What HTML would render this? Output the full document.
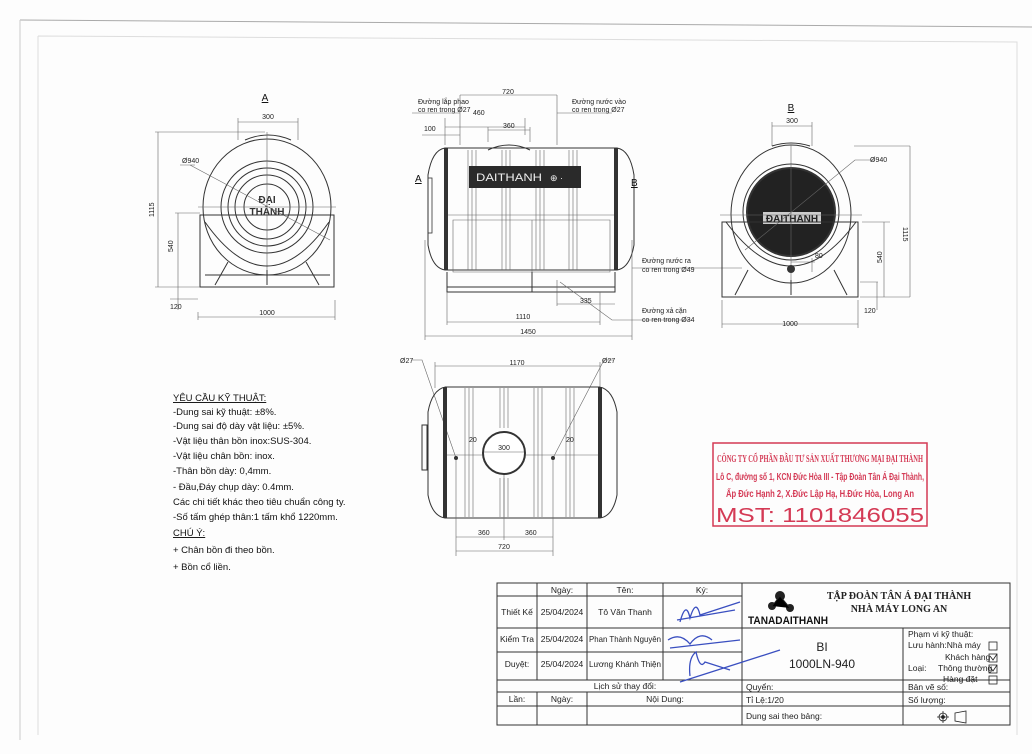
<!DOCTYPE html>
<html><head><meta charset="utf-8"><style>
html,body{margin:0;padding:0;background:#fff;}
svg{display:block;font-family:"Liberation Sans",sans-serif;}
.l{stroke:#333;stroke-width:1;fill:none}
.t{stroke:#666;stroke-width:.6;fill:none}
.d{font-size:7px;fill:#222;font-family:"Liberation Sans",sans-serif}
.tx{font-size:10px;fill:#111}
.tb{font-size:8.5px;fill:#222}
</style></head><body>
<svg width="1032" height="754" viewBox="0 0 1032 754" xmlns="http://www.w3.org/2000/svg">
<rect width="1032" height="754" fill="#fdfdfd"/>
<!-- frames -->
<path d="M20 20 L1032 27" stroke="#aaa" stroke-width="1"/>
<path d="M20 20 L20 740" stroke="#ccc" stroke-width="1"/>
<path d="M38 36 L1017 42 L1017 735 M38 36 L38 735" stroke="#ddd" stroke-width="1" fill="none"/>

<!-- LEFT VIEW A -->
<g>
<text x="265" y="101" class="tx" text-anchor="middle" text-decoration="underline">A</text>
<path class="t" d="M238 122 H298 M238 118 V140 M298 118 V140"/><text x="268" y="119" class="d" text-anchor="middle">300</text>
<path class="l" d="M245 140 Q268 130 291 140"/>
<ellipse class="l" cx="267" cy="207" rx="64" ry="68"/>
<circle class="l" cx="267" cy="207" r="46" stroke-width="2"/>
<circle class="l" cx="267" cy="207" r="39"/>
<circle class="l" cx="267" cy="207" r="32" stroke-width="1.5"/>
<circle class="l" cx="267" cy="207" r="23"/>
<text x="267" y="203" font-size="10" font-weight="bold" text-anchor="middle" fill="#333">ĐẠI</text>
<text x="267" y="215" font-size="10" font-weight="bold" text-anchor="middle" fill="#333">THÀNH</text>
<path class="t" d="M198 207 H336 M267 132 V285 M190 165 L330 240 M180 165 H195"/>
<text x="182" y="163" class="d">Ø940</text>
<rect class="l" x="200" y="215" width="134" height="72"/>
<path class="l" d="M205 222 Q267 310 329 222 M215 285 L228 262 M319 285 L306 262 M267 270 V285 M205 275 H330"/>
<path class="t" d="M158 132 V287 M155 132 H265 M155 287 H200 M178 213 V287 M175 213 H200 M170 299 H198 M178 287 V310 M198 312 V320 M198 317 H335 M335 300 V320"/>
<text x="152" y="215" class="d" transform="rotate(-90 154 215)">1115</text>
<text x="173" y="252" class="d" transform="rotate(-90 173 252)">540</text>
<text x="170" y="309" class="d">120</text>
<text x="267" y="315" class="d" text-anchor="middle">1000</text>
</g>

<!-- FRONT VIEW -->
<g>
<text x="418" y="104" class="d">Đường lắp phao</text><text x="418" y="112" class="d">co ren trong Ø27</text>
<path class="t" d="M412 113 H460 M460 95 V145 M460 95 H557 M557 95 V145 M557 113 H612"/>
<text x="508" y="94" class="d" text-anchor="middle">720</text>
<text x="572" y="104" class="d">Đường nước vào</text><text x="572" y="112" class="d">co ren trong Ø27</text>
<text x="473" y="115" class="d">460</text>
<path class="t" d="M445 118 V145 M445 127 H525 M525 118 V135 M422 135 H460"/><text x="424" y="131" class="d">100</text>
<path class="t" d="M488 130 H530 M488 127 V142 M530 127 V142"/><text x="503" y="128" class="d">360</text>
<path class="l" d="M445 148 Q432 150 428 175 V245 Q432 268 445 270 M617 148 Q630 150 634 175 V245 Q630 268 617 270"/>
<path class="l" d="M445 148 H617 V270 H445 Z" />
<rect x="444" y="148" width="4" height="122" fill="#333"/><rect x="614" y="148" width="4" height="122" fill="#333"/>
<path class="l" d="M488 150 Q509 140 530 150"/>
<path class="t" d="M468 150 V270 M472 150 V270 M476 150 V270 M502 150 V270 M506 150 V270 M510 150 V270 M536 150 V270 M540 150 V270 M544 150 V270 M569 150 V270 M573 150 V270 M577 150 V270 M448 215 H614"/>
<rect x="469" y="166" width="112" height="22" fill="#2a2a2a"/>
<text x="476" y="181" fill="#eee" font-size="11" textLength="66" lengthAdjust="spacingAndGlyphs" font-family="Liberation Sans Narrow, Liberation Sans, sans-serif">DAITHANH</text>
<text x="550" y="181" fill="#eee" font-size="9">⊕ ·</text>
<path class="t" d="M453 220 H610 V272 H453 Z M532 220 V272"/>
<text x="415" y="182" class="tx" text-decoration="underline">A</text>
<text x="631" y="186" class="tx" text-decoration="underline">B</text>
<rect x="428" y="178" width="4" height="55" fill="none" stroke="#333" stroke-width=".8"/>
<path class="l" d="M447 272 V292 H615 V272 M447 287 H615 M532 272 V292"/>
<path class="t" d="M447 292 V325 M600 292 V325 M447 322 H600 M557 280 V306 M557 304 H615 M425 240 V340 M632 240 V340 M425 336 H632 M632 268 H742 M560 282 L612 320 H690"/>
<text x="580" y="303" class="d">335</text>
<text x="523" y="319" class="d" text-anchor="middle">1110</text>
<text x="528" y="334" class="d" text-anchor="middle">1450</text>
<text x="642" y="263" class="d">Đường nước ra</text><text x="642" y="272" class="d">co ren trong Ø49</text>
<text x="642" y="313" class="d">Đường xả cặn</text><text x="642" y="322" class="d">co ren trong Ø34</text>
</g>

<!-- RIGHT VIEW B -->
<g>
<text x="791" y="111" class="tx" text-anchor="middle" text-decoration="underline">B</text>
<path class="t" d="M772 126 H812 M772 122 V146 M812 122 V146"/><text x="792" y="123" class="d" text-anchor="middle">300</text>
<path class="l" d="M772 146 Q791 140 810 146"/>
<ellipse class="l" cx="791" cy="214" rx="60" ry="69"/>
<circle cx="791" cy="212" r="44" fill="#222" stroke="#333" stroke-width="2"/>
<circle cx="791" cy="212" r="48" fill="none" stroke="#333" stroke-width="1"/>
<rect x="763" y="212" width="58" height="12" fill="#ccc"/>
<text x="792" y="222" font-size="10" font-weight="bold" text-anchor="middle" fill="#222">ĐAITHANH</text>
<path class="t" d="M720 215 H862 M791 145 V290 M745 250 L855 160 H875 M854 146 H910 M862 222 H890 M860 282 H878 M860 297 H910 M884 222 V297 M877 282 V310 M791 262 H815 M812 258 V272"/>
<circle cx="791" cy="269" r="4" fill="#333"/>
<text x="870" y="162" class="d">Ø940</text>
<rect class="l" x="722" y="222" width="136" height="75"/>
<path class="l" d="M726 222 Q791 310 856 222 M735 295 L748 270 M847 295 L834 270 M791 280 V295"/>
<path class="t" d="M910 146 V297"/>
<text x="905" y="225" class="d" transform="rotate(90 903 225)">1115</text>
<text x="881" y="262" class="d" transform="rotate(-90 882 262)">540</text>
<text x="864" y="313" class="d">120</text>
<text x="815" y="258" class="d">80</text>
<path class="t" d="M722 300 V328 M858 300 V328 M722 324 H858"/>
<text x="790" y="326" class="d" text-anchor="middle">1000</text>
</g>

<!-- BOTTOM VIEW -->
<g>
<path class="t" d="M435 366 H600 M435 362 V388 M600 362 V388"/><text x="517" y="365" class="d" text-anchor="middle">1170</text>
<text x="400" y="363" class="d">Ø27</text><text x="602" y="363" class="d">Ø27</text>
<path class="t" d="M411 360 H422 L456 458 M614 360 H604 L553 458"/>
<path class="l" d="M445 387 Q432 390 428 412 V495 Q432 516 445 518 M600 387 Q613 390 617 412 V495 Q613 516 600 518 M445 387 H600 V518 H445 Z"/>
<rect x="443" y="387" width="4" height="131" fill="#333"/><rect x="598" y="387" width="4" height="131" fill="#333"/>
<rect x="422" y="425" width="5" height="45" class="l"/>
<path class="t" d="M465 388 V517 M469 388 V517 M473 388 V517 M500 388 V428 M504 388 V428 M508 388 V428 M500 478 V517 M504 478 V517 M508 478 V517 M534 388 V517 M538 388 V517 M542 388 V517 M566 388 V517 M570 388 V517 M574 388 V517 M447 455 H598"/>
<circle cx="504" cy="453" r="21" fill="#fff" stroke="#333" stroke-width="2"/>
<path class="t" d="M484 452 H524"/><text x="504" y="450" class="d" text-anchor="middle">300</text>
<circle cx="456" cy="458" r="2" fill="#333"/><circle cx="553" cy="458" r="2" fill="#333"/>
<text x="469" y="442" class="d">20</text><text x="566" y="442" class="d">20</text>
<path class="t" d="M456 460 V556 M553 460 V556 M504 475 V540 M456 537 H553 M456 551 H553"/>
<text x="478" y="535" class="d">360</text><text x="525" y="535" class="d">360</text>
<text x="504" y="549" class="d" text-anchor="middle">720</text>
</g>

<!-- Requirements -->
<g font-size="9.5" fill="#111">
<text x="173" y="401" text-decoration="underline">YÊU CẦU KỸ THUẬT:</text>
<text x="173" y="415">-Dung sai kỹ thuật: ±8%.</text>
<text x="173" y="429">-Dung sai độ dày vật liệu: ±5%.</text>
<text x="173" y="444">-Vật liệu thân bồn inox:SUS-304.</text>
<text x="173" y="459">-Vật liệu chân bồn: inox.</text>
<text x="173" y="474">-Thân bồn dày: 0,4mm.</text>
<text x="173" y="490">- Đầu,Đáy chụp dày: 0.4mm.</text>
<text x="173" y="505">Các chi tiết khác theo tiêu chuẩn công ty.</text>
<text x="173" y="520">-Số tấm ghép thân:1 tấm khổ 1220mm.</text>
<text x="173" y="536" text-decoration="underline">CHÚ Ý:</text>
<text x="173" y="553">+ Chân bồn đi theo bồn.</text>
<text x="173" y="570">+ Bồn cổ liền.</text>
</g>

<!-- Stamp -->
<g fill="#d43a55">
<rect x="713" y="443" width="214" height="83" fill="none" stroke="#d43a55" stroke-width="1.5"/>
<text x="717" y="462" font-family="Liberation Serif,serif" font-weight="bold" font-size="10" textLength="206" lengthAdjust="spacingAndGlyphs">CÔNG TY CỔ PHẦN ĐẦU TƯ SẢN XUẤT THƯƠNG MẠI ĐẠI THÀNH</text>
<text x="716" y="480" font-size="10.5" font-weight="bold" textLength="208" lengthAdjust="spacingAndGlyphs">Lô C, đường số 1, KCN Đức Hòa III - Tập Đoàn Tân Á Đại Thành,</text>
<text x="726" y="497" font-size="10.5" font-weight="bold" textLength="188" lengthAdjust="spacingAndGlyphs">Ấp Đức Hạnh 2, X.Đức Lập Hạ, H.Đức Hòa, Long An</text>
<text x="716" y="522" font-size="20" textLength="208" lengthAdjust="spacingAndGlyphs">MST: 1101846055</text>
</g>

<!-- Title block -->
<g stroke="#333" stroke-width="1" fill="none">
<rect x="497" y="583" width="513" height="142"/>
<path d="M497 596 H742 M497 628 H1010 M497 652 H742 M497 680 H1010 M497 692 H1010 M497 706 H1010"/>
<path d="M537 583 V680 M587 583 V680 M663 583 V680 M742 583 V725 M903 628 V725 M537 692 V725 M587 692 V725"/>
</g>
<g class="tb" text-anchor="middle">
<text x="562" y="593">Ngày:</text><text x="625" y="593">Tên:</text><text x="702" y="593">Ký:</text>
<text x="517" y="615">Thiết Kế</text><text x="562" y="615">25/04/2024</text><text x="625" y="615">Tô Văn Thanh</text>
<text x="517" y="642">Kiểm Tra</text><text x="562" y="642">25/04/2024</text><text x="625" y="642" textLength="72" lengthAdjust="spacingAndGlyphs">Phan Thành Nguyên</text>
<text x="517" y="667">Duyệt:</text><text x="562" y="667">25/04/2024</text><text x="625" y="667" textLength="72" lengthAdjust="spacingAndGlyphs">Lương Khánh Thiện</text>
<text x="625" y="689">Lịch sử thay đổi:</text>
<text x="517" y="702">Lần:</text><text x="562" y="702">Ngày:</text><text x="665" y="702">Nội Dung:</text>
</g>
<g stroke="#3a4fc0" stroke-width="1.3" fill="none">
<path d="M680 622 Q686 600 690 618 Q696 598 700 615 L740 602 M677 620 L735 610"/>
<path d="M668 640 Q680 632 690 644 Q700 630 712 640 M670 648 L740 640"/>
<path d="M690 676 Q688 658 696 652 Q700 670 705 662 L730 670 M680 682 L780 650"/>
</g>
<g>
<circle cx="780" cy="596" r="5" fill="#222"/><circle cx="772" cy="606" r="4" fill="#222"/><circle cx="790" cy="608" r="4" fill="#222"/>
<path d="M772 606 L780 596 L790 608" stroke="#222"/>
<text x="748" y="624" font-size="11" font-weight="bold" fill="#111" textLength="80" lengthAdjust="spacingAndGlyphs">TANADAITHANH</text>
<text x="899" y="599" text-anchor="middle" font-family="Liberation Serif,serif" font-weight="bold" font-size="10" fill="#222">TẬP ĐOÀN TÂN Á ĐẠI THÀNH</text>
<text x="899" y="612" text-anchor="middle" font-family="Liberation Serif,serif" font-weight="bold" font-size="10" fill="#222">NHÀ MÁY LONG AN</text>
<text x="822" y="651" text-anchor="middle" font-size="12" fill="#222">BI</text>
<text x="822" y="668" text-anchor="middle" font-size="12" fill="#222">1000LN-940</text>
<g class="tb" font-size="8">
<text x="908" y="637">Phạm vi kỹ thuật:</text>
<text x="908" y="648">Lưu hành:Nhà máy</text>
<text x="945" y="660">Khách hàng</text>
<text x="908" y="671">Loại:</text><text x="938" y="671">Thông thường</text>
<text x="943" y="682">Hàng đặt</text>
<text x="746" y="690">Quyển:</text><text x="746" y="703">Tỉ Lệ:1/20</text><text x="746" y="719">Dung sai theo bảng:</text>
<text x="908" y="690">Bản vẽ số:</text><text x="908" y="703">Số lượng:</text>
</g>
<g stroke="#222" fill="none" stroke-width=".8">
<rect x="989" y="642" width="8" height="8"/><rect x="989" y="654" width="8" height="8"/><rect x="989" y="665" width="8" height="8"/><rect x="989" y="676" width="8" height="8"/>
<path d="M990 656 L993 660 L997 654 M990 667 L993 671 L997 665"/>
<circle cx="943" cy="717" r="4"/><circle cx="943" cy="717" r="1.5" fill="#222"/><path d="M937 717 H949 M943 711 V723"/>
<path d="M955 713 L966 711 V723 L955 721 Z"/>
</g>
</g>
</svg>
</body></html>
